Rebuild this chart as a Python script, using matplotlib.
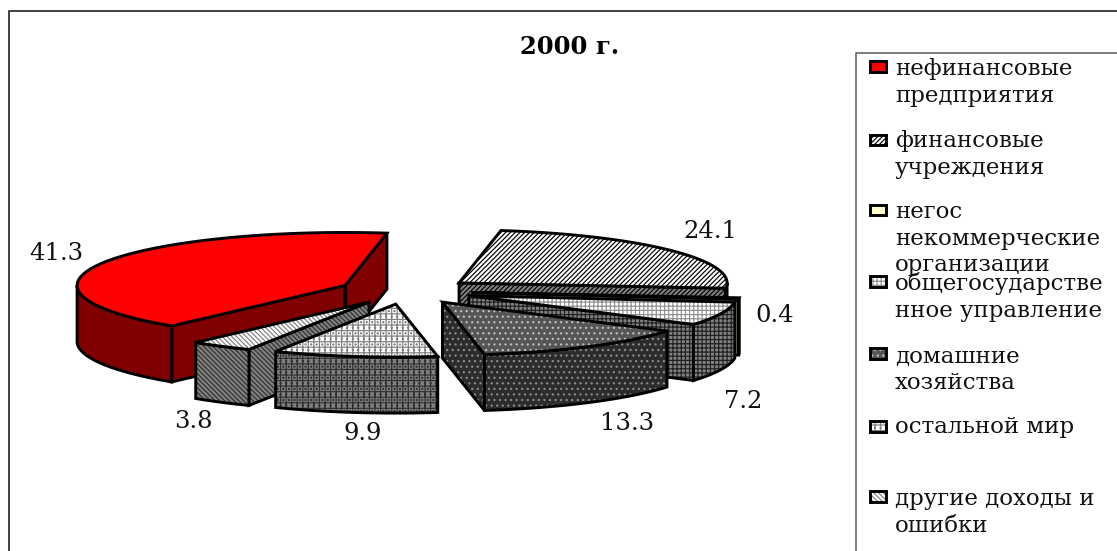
import numpy as np
import matplotlib
matplotlib.use('Agg')
import matplotlib.pyplot as plt
from matplotlib.patches import Polygon, Rectangle

# --- data ---
titulo = '2000 г.'
categorias = ['нефинансовые\nпредприятия', 'финансовые\nучреждения',
              'негос\nнекоммерческие\nорганизации', 'общегосударстве\nнное управление',
              'домашние\nхозяйства', 'остальной мир', 'другие доходы и\nошибки']
valores = [41.3, 24.1, 0.4, 7.2, 13.3, 9.9, 3.8]
etiquetas = ['41.3', '24.1', '0.4', '7.2', '13.3', '9.9', '3.8']

# --- estilos: (relleno, trama, color de trama) para tapa y costado ---
tapa = [('#ff0000', None, None), ('#ffffff', '///////', '#000000'), ('#ffffcc', None, None),
        ('#ffffff', '++++', '#909090'), ('#565656', '...', '#c0c0c0'),
        ('#ffffff', '+++...', '#808080'), ('#ffffff', '\\\\\\\\\\\\\\', '#808080')]
costado = [('#800000', None, None), ('#808080', '///////', '#000000'), ('#808066', None, None),
           ('#808080', '++++', '#202020'), ('#2c2c2c', '...', '#8c8c8c'),
           ('#808080', '+++...', '#303030'), ('#808080', '\\\\\\\\\\\\\\', '#303030')]

# geometria del pastel en pixeles de la figura
CX, CY = 406, 291
RX, RY = 268, 53
ALTO = 56
EXPLOSION = 67
INICIO = 229.7
orden_dibujo = [1, 2, 3, 4, 0, 6, 5]

W, H = 1117, 551
SERIF = 'DejaVu Serif'
plt.rcParams['hatch.linewidth'] = 0.85

fig = plt.figure(figsize=(W / 100, H / 100), dpi=100)
ax = fig.add_axes([0, 0, 1, 1])
ax.set_xlim(0, W)
ax.set_ylim(H, 0)
ax.axis('off')


def pts(vx, vy, ang):
    a = np.radians(ang)
    return np.column_stack([vx + RX * np.cos(a), vy - RY * np.sin(a)])


def cara(xy, estilo, z):
    relleno, trama, col = estilo
    ax.add_patch(Polygon(xy, closed=True, facecolor=relleno, edgecolor=col or relleno,
                         hatch=trama, lw=0, zorder=z))
    ax.add_patch(Polygon(xy, closed=True, fill=False, edgecolor='black', lw=2.1,
                         joinstyle='miter', zorder=z + 0.1))


# angulos de cada porcion, sentido horario
limites = INICIO - np.cumsum([0] + valores) * 360 / sum(valores)
for i in orden_dibujo:
    a0, a1 = limites[i], limites[i + 1]  # a0 > a1
    medio = np.radians((a0 + a1) / 2)
    vx = CX + EXPLOSION * np.cos(medio)
    vy = CY - EXPLOSION * RY / RX * np.sin(medio)
    z = 2 + orden_dibujo.index(i)
    v = np.array([[vx, vy]])
    abajo = np.array([0, ALTO])

    # paredes radiales visibles
    if np.cos(np.radians(a0)) < 0:
        p = pts(vx, vy, np.array([a0]))
        cara(np.vstack([v, p, p + abajo, v + abajo]), costado[i], z)
    if np.cos(np.radians(a1)) > 0:
        p = pts(vx, vy, np.array([a1]))
        cara(np.vstack([v, p, p + abajo, v + abajo]), costado[i], z)

    # pared curva: solo la parte del frente
    for lo, hi in [(-180, 0), (180, 360)]:
        b0, b1 = max(a1, lo), min(a0, hi)
        if b1 > b0:
            arco = pts(vx, vy, np.linspace(b0, b1, 80))
            cara(np.vstack([arco, arco[::-1] + abajo]), costado[i], z + 0.2)

    # tapa
    arco = pts(vx, vy, np.linspace(a0, a1, 200))
    cara(np.vstack([v, arco]), tapa[i], z + 0.4)

# etiquetas de valores
pos_etq = [(56, 253), (710, 232), (775, 316), (743, 401), (627, 423), (363, 433), (193, 422)]
for txt, (x, y) in zip(etiquetas, pos_etq):
    ax.text(x, y, txt, family=SERIF, fontsize=17.5, color='#111111', ha='center', va='center', zorder=30)

ax.text(570, 47, titulo, family=SERIF, fontsize=17.5, fontweight='bold', ha='center', va='center')

# marco exterior y leyenda
ax.plot([8.5, 8.5, 1117], [551, 11, 11], color='#333333', lw=1.3, zorder=1)
ax.plot([855.5, 855.5, 1117], [551, 52.5, 52.5], color='#666666', lw=1.2, zorder=1)

y_marca = [66.5, 140, 210, 281.5, 353.5, 426.5, 496.5]
y_texto = [58, 130, 201, 272, 345, 416, 488]
for i, ym, yt in zip(range(len(categorias)), y_marca, y_texto):
    rel, tr, col = tapa[i]
    ax.add_patch(Rectangle((869.5, ym - 5.2), 16, 10.4, facecolor=rel, edgecolor=col or rel,
                           hatch=tr, lw=0, zorder=5))
    ax.add_patch(Rectangle((869.5, ym - 5.2), 16, 10.4, fill=False, edgecolor='black', lw=2.1, zorder=6))
    ax.text(895, yt, categorias[i], family=SERIF, fontsize=16.5, color='#111111', va='top',
            ha='left', linespacing=1.27, zorder=7)

fig.savefig('out.png', dpi=100, facecolor='white')
